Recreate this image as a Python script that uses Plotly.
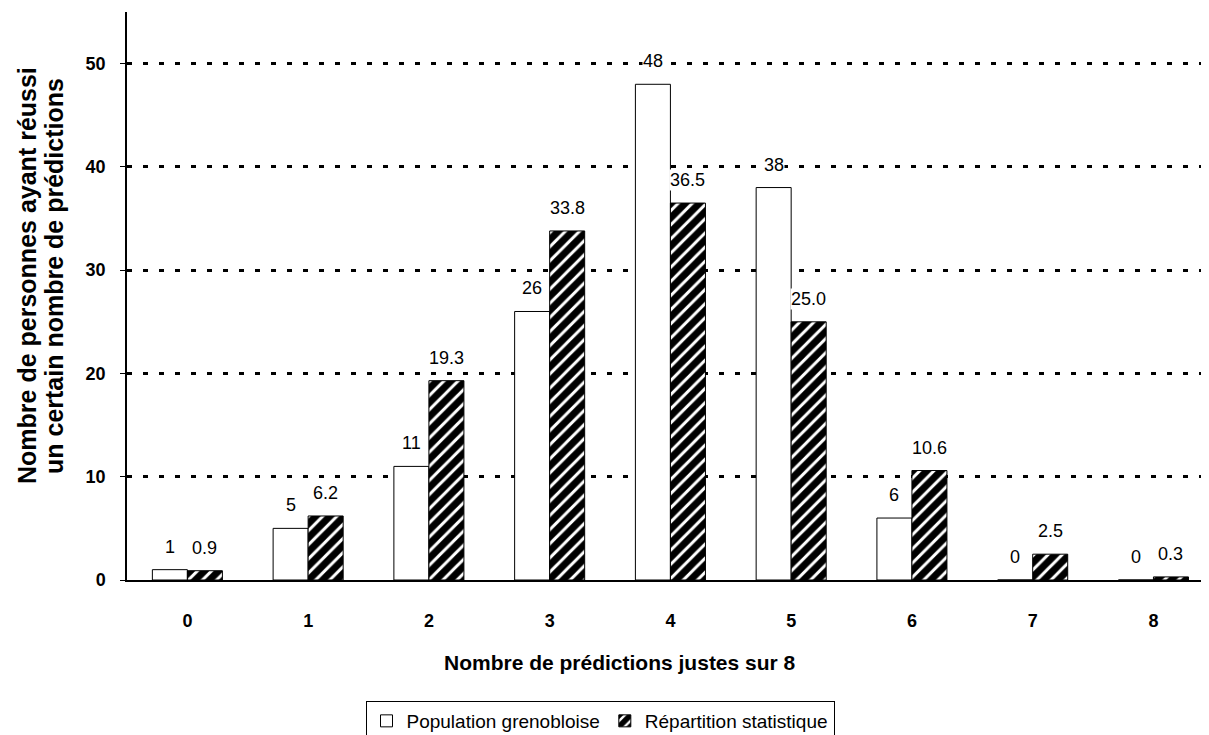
import plotly.graph_objects as go

categories = [0, 1, 2, 3, 4, 5, 6, 7, 8]
population = [1, 5, 11, 26, 48, 38, 6, 0, 0]
statistique = [0.9, 6.2, 19.3, 33.8, 36.5, 25.0, 10.6, 2.5, 0.3]
y_ticks = [0, 10, 20, 30, 40, 50]

FONT = "Arial, 'Liberation Sans', sans-serif"

# page body has an 8px margin; work in screen pixels and convert
OFF = 8
W, H = 1209 - OFF, 735 - OFF
L = 127 - OFF          # screen x of y-axis line = 127
T = 12 - OFF           # screen y of plot top = 12
BASE = 580 - OFF       # screen y of baseline = 580
B = H - BASE
PW, PH = W - L, BASE - T


def px(xs):
    return (xs - OFF - L) / PW


def py(ys):
    return (BASE - (ys - OFF)) / PH


fig = go.Figure()
fig.add_trace(go.Bar(
    x=categories, y=population, name="Population grenobloise",
    marker=dict(color="white", line=dict(color="black", width=1)),
))
fig.add_trace(go.Bar(
    x=categories, y=statistique, name="Répartition statistique",
    marker=dict(color="white", line=dict(color="black", width=1),
                pattern=dict(shape="/", fgcolor="black", bgcolor="white",
                             fgopacity=1, size=10, solidity=0.7)),
))

annotations = []
for c, v in zip(categories, population):
    annotations.append(dict(x=c, y=v, xref="x", yref="y", text=str(v),
                            showarrow=False, xshift=-17.5, yshift=23,
                            bgcolor="white", borderpad=0,
                            font=dict(family=FONT, size=18, color="black")))
for c, v in zip(categories, statistique):
    annotations.append(dict(x=c, y=v, xref="x", yref="y", text=f"{v:.1f}",
                            showarrow=False, xshift=17.5, yshift=23,
                            bgcolor="white", borderpad=0,
                            font=dict(family=FONT, size=18, color="black")))

# x-axis title
annotations.append(dict(x=px(620), y=py(662), xref="paper", yref="paper",
                        text="<b>Nombre de prédictions justes sur 8</b>",
                        showarrow=False, yanchor="middle", xanchor="center",
                        font=dict(family=FONT, size=21, color="black")))
# y-axis title (two lines)
for txt, xc in [("Nombre de personnes ayant réussi", 27), ("un certain nombre de prédictions", 54)]:
    annotations.append(dict(x=px(xc), y=py(276), xref="paper", yref="paper",
                            text=f"<b>{txt}</b>", showarrow=False, textangle=-90,
                            xanchor="center", yanchor="middle",
                            font=dict(family=FONT, size=25, color="black")))

fig.update_layout(
    width=W, height=H,
    margin=dict(l=L, r=0, t=T, b=B, autoexpand=False),
    paper_bgcolor="white", plot_bgcolor="white",
    barmode="group", bargap=0.42, bargroupgap=0,
    font=dict(family=FONT, color="black"),
    showlegend=True,
    legend=dict(orientation="h", x=px(600), xanchor="center",
                y=py(701), yanchor="top",
                bordercolor="black", borderwidth=1, bgcolor="white",
                font=dict(family=FONT, size=19, color="black"),
                itemwidth=30, traceorder="normal"),
    annotations=annotations,
)
fig.update_xaxes(
    range=[-0.5, 8.46], tickvals=categories, ticktext=[str(c) for c in categories],
    showline=True, linecolor="black", linewidth=1.5, showgrid=False, zeroline=False,
    ticks="", ticklabelstandoff=24, automargin=False,
    tickfont=dict(family=FONT, size=18, color="black", weight="bold"),
)
fig.update_yaxes(
    range=[0, 55], tickvals=y_ticks,
    showline=True, linecolor="black", linewidth=1.5,
    showgrid=True, gridcolor="black", gridwidth=2.5, griddash="5px,11px",
    zeroline=False, ticks="outside", ticklen=5, tickcolor="black",
    ticklabelstandoff=11, automargin=False,
    tickfont=dict(family=FONT, size=18, color="black", weight="bold"),
)

fig.write_html("out.html")
